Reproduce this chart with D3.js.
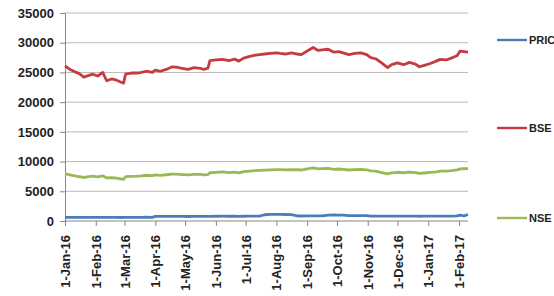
<!DOCTYPE html>
<html><head><meta charset="utf-8">
<script src="https://cdn.jsdelivr.net/npm/d3@7"></script>
<style>body{margin:0;background:#fff}svg{display:block}</style>
</head><body>
<svg id="c" width="554" height="296"></svg>
<script>
const dates = ["2016-01-01","2016-01-06","2016-01-11","2016-01-15","2016-01-20","2016-01-25","2016-01-29","2016-02-03","2016-02-08","2016-02-12","2016-02-17","2016-02-22","2016-02-26","2016-02-29","2016-03-02","2016-03-08","2016-03-14","2016-03-18","2016-03-23","2016-03-29","2016-04-01","2016-04-06","2016-04-12","2016-04-18","2016-04-22","2016-04-28","2016-05-04","2016-05-10","2016-05-16","2016-05-20","2016-05-24","2016-05-26","2016-06-01","2016-06-08","2016-06-14","2016-06-20","2016-06-24","2016-06-29","2016-07-05","2016-07-11","2016-07-15","2016-07-20","2016-07-26","2016-08-01","2016-08-05","2016-08-10","2016-08-16","2016-08-22","2016-08-26","2016-09-01","2016-09-07","2016-09-12","2016-09-16","2016-09-22","2016-09-28","2016-10-03","2016-10-07","2016-10-13","2016-10-19","2016-10-25","2016-10-31","2016-11-04","2016-11-09","2016-11-15","2016-11-21","2016-11-25","2016-12-01","2016-12-07","2016-12-13","2016-12-19","2016-12-23","2016-12-28","2017-01-03","2017-01-09","2017-01-13","2017-01-19","2017-01-24","2017-01-30","2017-02-02","2017-02-06","2017-02-10"];
const bse = [26100,25500,25100,24850,24200,24500,24700,24400,25000,23600,23900,23700,23400,23200,24700,24900,24900,25000,25200,25000,25400,25200,25500,25950,25900,25700,25500,25800,25700,25500,25700,27000,27100,27200,27000,27250,26900,27400,27700,27900,28000,28100,28200,28300,28200,28100,28300,28100,28000,28600,29200,28700,28800,28900,28400,28500,28300,28000,28200,28300,28000,27500,27300,26600,25800,26300,26600,26300,26700,26400,25950,26200,26500,26900,27200,27100,27400,27800,28600,28500,28400];
const nse = [7960,7780,7600,7480,7320,7450,7560,7420,7600,7240,7280,7200,7080,7000,7450,7520,7540,7600,7700,7620,7750,7680,7780,7900,7900,7820,7760,7860,7830,7760,7820,8120,8180,8250,8150,8240,8100,8300,8400,8480,8520,8560,8600,8650,8640,8600,8660,8620,8580,8780,8950,8760,8800,8850,8700,8750,8700,8580,8660,8700,8620,8440,8400,8150,7950,8100,8200,8120,8240,8140,8000,8080,8180,8280,8400,8380,8460,8600,8780,8790,8800];
const price = [600,600,620,600,610,620,610,600,620,600,610,600,590,600,610,620,620,620,630,620,780,770,780,790,780,770,760,780,770,770,780,790,800,810,800,800,790,800,810,820,830,1050,1100,1100,1110,1090,1080,850,840,850,860,850,860,1000,1010,1000,990,900,910,920,920,830,820,820,810,810,820,810,820,810,800,810,820,820,830,820,830,850,1000,860,1100];
const yTickValues = [0,5000,10000,15000,20000,25000,30000,35000];
const xTickDates = ["2016-01-01","2016-02-01","2016-03-01","2016-04-01","2016-05-01","2016-06-01","2016-07-01","2016-08-01","2016-09-01","2016-10-01","2016-11-01","2016-12-01","2017-01-01","2017-02-01"];
const seriesNames = ["PRICE","BSE","NSE"];
const seriesColors = ["#4a7ebb","#c43c42","#98b954"];

const parse = d3.utcParse("%Y-%m-%d");
const fmt = d3.utcFormat("%-d-%b-%y");
const svg = d3.select("#c");
const L = 65, R = 468, T = 13, B = 221;
const FONT = "Liberation Sans, Arial, sans-serif";

const x = d3.scaleUtc().domain([parse("2016-01-01"), parse("2017-02-10")]).range([L, R]);
const y = d3.scaleLinear().domain([0, 35000]).range([B, T]);

// gridlines
svg.append("g").selectAll("line").data(yTickValues.filter(v => v > 0)).join("line")
  .attr("x1", L).attr("x2", R).attr("y1", d => y(d)).attr("y2", d => y(d))
  .attr("stroke", "#b9b9b9").attr("stroke-width", 1);

// y axis
const ya = svg.append("g").attr("transform", `translate(${L},0)`)
  .call(d3.axisLeft(y).tickValues(yTickValues).tickFormat(d3.format("d")).tickSize(5).tickPadding(6));
ya.select(".domain").attr("stroke", "#868686");
ya.selectAll(".tick line").attr("stroke", "#868686");
ya.selectAll("text").attr("font-family", FONT).attr("font-size", 13)
  .attr("font-weight", "bold").attr("fill", "#222");

// x axis
const xa = svg.append("g").attr("transform", `translate(0,${B})`)
  .call(d3.axisBottom(x).tickValues(xTickDates.map(parse)).tickFormat(fmt).tickSize(5).tickPadding(0));
xa.select(".domain").attr("stroke", "#868686").attr("d", `M${L},0H${R}`);
xa.selectAll(".tick line").attr("stroke", "#868686");
xa.selectAll("text").attr("font-family", FONT).attr("font-size", 13)
  .attr("font-weight", "bold").attr("fill", "#222")
  .attr("transform", "rotate(-90)").attr("text-anchor", "end")
  .attr("x", -14).attr("y", 0).attr("dy", "0.35em");

// lines
const series = [price, bse, nse];
const line = d3.line().x((d, i) => x(parse(dates[i]))).y(d => y(d)).curve(d3.curveLinear);
series.forEach((s, k) => {
  svg.append("path").datum(s).attr("d", line).attr("fill", "none")
    .attr("stroke", seriesColors[k]).attr("stroke-width", 2.8).attr("stroke-linejoin", "round");
});

// legend
const legY = [40, 128, 218];
const lg = svg.append("g");
seriesNames.forEach((n, k) => {
  lg.append("line").attr("x1", 497).attr("x2", 527).attr("y1", legY[k]).attr("y2", legY[k])
    .attr("stroke", seriesColors[k]).attr("stroke-width", 2.4);
  lg.append("text").attr("x", 529).attr("y", legY[k]).attr("dy", "0.36em").text(n)
    .attr("font-family", FONT).attr("font-size", 11)
    .attr("font-weight", "bold").attr("fill", "#222");
});
</script>
</body></html>
